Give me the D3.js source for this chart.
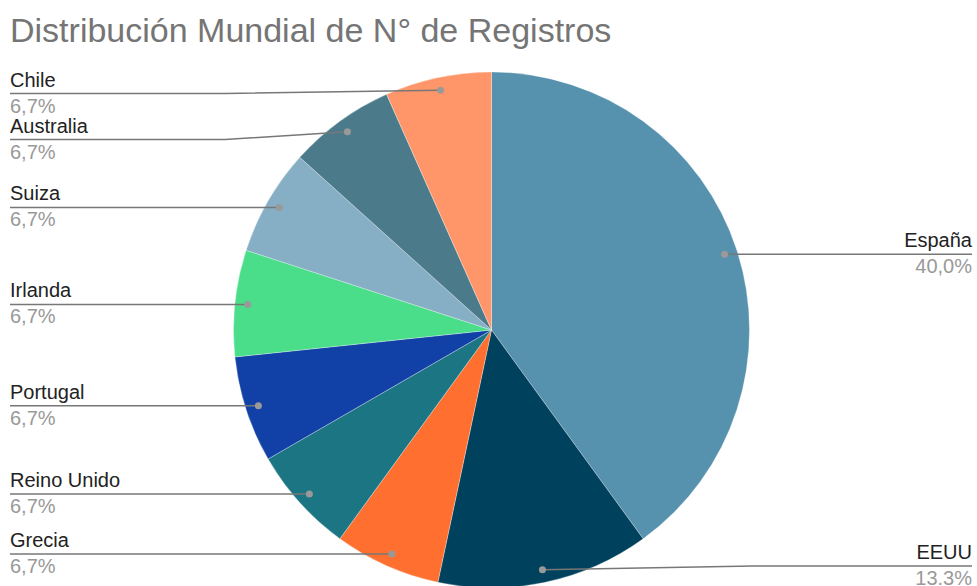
<!DOCTYPE html>
<html>
<head>
<meta charset="utf-8">
<script src="https://cdn.jsdelivr.net/npm/d3@7"></script>
<style>
  body { margin: 0; background: #fff; }
  svg { display: block; font-family: Arial, "Liberation Sans", sans-serif; }
</style>
</head>
<body>
<div id="chart"></div>
<script>
'use strict';

// data
const countries = ['España', 'EEUU', 'Grecia', 'Reino Unido', 'Portugal', 'Irlanda', 'Suiza', 'Australia', 'Chile'];
const registros = [6, 2, 1, 1, 1, 1, 1, 1, 1];
const pctLabels = ['40,0%', '13.3%', '6,7%', '6,7%', '6,7%', '6,7%', '6,7%', '6,7%', '6,7%'];
const sliceColors = ['#5691ad', '#00415e', '#ff6f2f', '#1c7583', '#1140a6', '#4ade8a', '#86aec4', '#4b7b8b', '#ff9669'];

const width = 977, height = 586;
const cx = 491.5, cy = 330, radius = 258;

const svg = d3.select('#chart').append('svg')
  .attr('width', width)
  .attr('height', height);

svg.append('text')
  .text('Distribución Mundial de N° de Registros')
  .attr('x', 10)
  .attr('y', 42)
  .attr('fill', '#757575')
  .style('font-size', '34px');

const color = d3.scaleOrdinal().domain(countries).range(sliceColors);

const pie = d3.pie()
  .sort(null)
  .value(function (d, i) { return registros[i]; });

const arcs = pie(countries);

const arc = d3.arc().innerRadius(0).outerRadius(radius);
const dotArc = d3.arc().innerRadius(radius * 0.95).outerRadius(radius * 0.95);

const g = svg.append('g').attr('transform', `translate(${cx}, ${cy})`);

g.selectAll('path.slice')
  .data(arcs)
  .join('path')
  .attr('class', 'slice')
  .attr('d', arc)
  .attr('fill', function (d) { return color(d.data); })
  .attr('stroke', '#ffffff')
  .attr('stroke-opacity', 0.6)
  .attr('stroke-width', 0.5);

// label layout: dots sit on the slice middle, labels go to the side
const labels = arcs.map(function (d, i) {
  const c = dotArc.centroid(d);
  const mid = (d.startAngle + d.endAngle) / 2;
  return {
    name: d.data,
    pct: pctLabels[i],
    dx: cx + c[0],
    dy: cy + c[1],
    right: mid < Math.PI,
    ly: cy + c[1]
  };
});

const minGap = 46, topY = 93.5, bottomY = 566;
[true, false].forEach(function (side) {
  const list = labels.filter(function (l) { return l.right === side; })
    .sort(function (a, b) { return a.dy - b.dy; });
  let prev = -Infinity;
  list.forEach(function (l) {
    l.ly = Math.min(bottomY, Math.max(l.dy, topY, prev + minGap));
    prev = l.ly;
  });
});

const leftX = 10, rightX = 972;

const lab = svg.append('g');

labels.forEach(function (l) {
  const endX = l.right ? rightX : leftX;
  let pts;
  if (Math.abs(l.ly - l.dy) < 1) {
    pts = [[l.dx, l.dy], [endX, l.dy]];
    l.ly = l.dy;
  } else {
    const kneeX = l.right ? 753 : 225;
    pts = [[l.dx, l.dy], [kneeX, l.ly], [endX, l.ly]];
  }
  lab.append('path')
    .attr('d', d3.line()(pts))
    .attr('fill', 'none')
    .attr('stroke', '#777777')
    .attr('stroke-width', 1.5);

  lab.append('circle')
    .attr('cx', l.dx)
    .attr('cy', l.dy)
    .attr('r', 3.5)
    .attr('fill', '#999999');

  lab.append('text')
    .text(l.name)
    .attr('x', endX)
    .attr('y', l.ly - 7)
    .attr('text-anchor', l.right ? 'end' : 'start')
    .attr('fill', '#222222')
    .style('font-size', '20px');

  lab.append('text')
    .text(l.pct)
    .attr('x', endX)
    .attr('y', l.ly + 19)
    .attr('text-anchor', l.right ? 'end' : 'start')
    .attr('fill', '#999999')
    .style('font-size', '20px');
});
</script>
</body>
</html>
